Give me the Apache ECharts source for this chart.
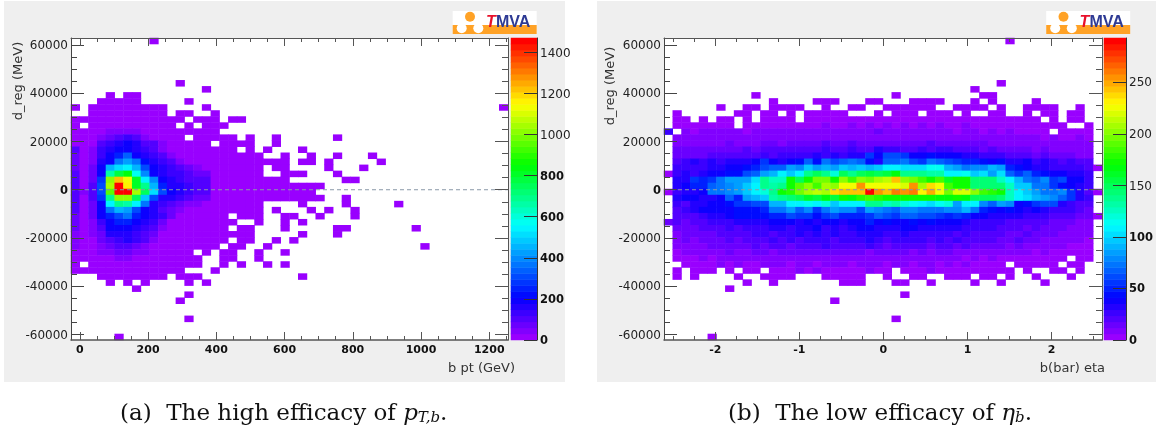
<!DOCTYPE html>
<html><head><meta charset="utf-8">
<style>html,body{margin:0;padding:0;background:#fff}#c{width:1156px;height:430px}</style>
<script src="https://cdn.jsdelivr.net/npm/echarts@6/dist/echarts.min.js"></script>
</head><body><div id="c"></div>
<script>
// ---- data: 50 x 50 bins, top row first; a row may stop after its last filled bin ----
const ptTicks=[0,200,400,600,800,1000,1200];
const etaTicks=[-2,-1,0,1,2];
const dregTicks=[-60000,-40000,-20000,0,20000,40000,60000];
const ptBarTicks=[0,200,400,600,800,1000,1200,1400];
const etaBarTicks=[0,50,100,150,200,250];
const ptZMax=1470, etaZMax=293;
const ptRows=[
[0,0,0,0,0,0,0,0,0,1],[],[],[],[],[],[],
[0,0,0,0,0,0,0,0,0,0,0,0,1],
[0,0,0,0,0,0,0,0,0,0,0,0,0,0,0,1],
[0,0,0,0,1,0,1,1],
[0,0,0,1,2, 2,2,1,0,0, 0,0,0,1],
[1,0,2,3,3, 3,3,3,2,2, 1,0,0,0,0, 1,0,0,0,0, 0,0,0,0,0, 0,0,0,0,0, 0,0,0,0,0, 0,0,0,0,0, 0,0,0,0,0, 0,0,0,0,1],
[0,0,3,4,5, 5,5,4,3,2, 2,0,1,1,0, 0,1],
[1,2,4,6,8, 9,10,9,6,4, 3,2,1,0,1, 1,1,0,1,1],
[2,0,6,9,14, 16,22,20,12,8, 5,3,0,1,0, 1,1,1],
[3,4,10,16,40, 45,48,42,28,12, 8,5,3,2,2, 1,1],
[6,8,14,50,80, 110,120,90,30,20, 10,6,4,0,3, 2,2,1,1,0, 1,0,0,1,0, 0,0,0,0,0, 1,0,0,0,0, 0],
[15,12,22,90,135, 165,185,155,110,90, 40,9,5,4,3, 3,0,2,1,1, 1,0,0,1],
[110,15,35,140,170, 195,200,155,135,110, 50,14,8,6,4, 3,2,2,1,0, 1,0,1,0,0, 0,1],
[60,18,45,130,195, 260,340,190,150,130, 100,50,22,6,4, 3,3,2,2,1, 1,1,0,0,1, 0,0,1,0,0, 1,0,0,0,1],
[70,20,50,155,200, 380,440,370,210,165, 130,100,40,15,6, 4,3,3,2,2, 1,1,1,1,1, 0,1,1,0,1, 0,0,0,0,0, 1],
[85,22,60,195,450, 520,550,470,300,195, 165,140,100,70,40, 15,6,4,3,2, 2,1,0,1,1, 0,0,0,0,1, 0,0,0,1],
[100,25,70,190,650, 770,845,580,400,190, 150,140,125,100,80, 70,20,8,5,3, 2,2,0,0,1, 1,1,0,0,0, 1],
[105,25,80,270,1000, 1230,1120,820,550,400, 195,160,130,110,100, 90,25,10,6,4, 3,2,2,1,1, 0,0,0,0,0, 0,1,1],
[110,25,90,320,1040, 1465,1160,820,700,450, 260,155,160,120,100, 90,28,12,7,5, 3,3,2,2,1, 1,1,1,1],
[115,30,95,320,950, 1465,1465,1040,750,520, 320,195,170,130,100, 90,25,10,6,4, 3,3,2,2,1, 1,1,1],
[100,28,90,280,700, 1000,1000,750,490,320, 165,170,120,100,80, 60,20,8,5,4, 3,2,2,1,1, 1,1,1,1,0, 0,1],
[100,28,80,195,550, 690,660,550,380,170, 140,110,80,50,35, 15,8,5,4,3, 2,2,0,0,0, 0,1,0,0,0, 0,1,0,0,0, 0,0,1],
[90,25,70,195,380, 450,420,320,195,150, 110,80,40,15,8, 5,4,3,3,2, 2,1,0,1,0, 0,0,1,0,1, 0,0,1],
[80,22,60,180,260, 320,370,260,195,165, 135,60,25,10,6, 4,3,3,0,2, 1,1,0,0,1, 1,0,0,1,0, 0,0,1],
[70,20,50,130,195, 240,260,195,150,120, 70,25,12,7,5, 3,3,2,2,0, 0,1,0,0,1, 0,1],
[65,18,45,110,195, 195,195,170,135,110, 45,15,8,5,4, 3,2,2,0,1, 1,0,0,0,1, 0,0,0,0,0, 1,1,0,0,0, 0,0,0,0,1],
[55,15,35,85,155, 172,172,125,110,60, 25,10,6,4,3, 2,2,1,1,1, 1,0,0,0,0, 0,1,0,0,0, 1],
[45,12,25,70,110, 135,155,135,90,45, 15,8,5,3,2, 2,1,1,0,1, 1,0,0,1,0, 1],
[30,10,18,50,75, 100,110,80,50,20, 10,6,4,3,2, 1,1,0,1,1, 0,0,1,0,0, 0,0,0,0,0, 0,0,0,0,0, 0,0,0,0,0, 1],
[15,8,12,30,50, 65,60,50,30,12, 7,5,3,2,0, 1,0,1,1,0, 0,1,0,0,1],
[8,5,8,18,25, 35,40,25,20,8, 5,3,2,2,1, 0,0,1,1,0, 0,1],
[3,0,4,8,12, 14,16,12,8,5, 3,2,2,1,1, 0,0,1,0,1, 0,0,1,0,1],
[2,1,2,3,4, 5,6,4,3,2, 2,1,1,0,0, 0,1],
[0,0,0,1,2, 2,3,2,1,1, 1,0,1,1,1, 0,0,0,0,0, 0,0,0,0,0, 0,1],
[0,0,0,0,1, 0,1,0,1,0, 0,0,0,1,0, 1],
[0,0,0,0,0, 0,0,1],
[0,0,0,0,0, 0,0,0,0,0, 0,0,0,1],
[0,0,0,0,0, 0,0,0,0,0, 0,0,1],
[],[],
[0,0,0,0,0, 0,0,0,0,0, 0,0,0,1],
[],[],
[0,0,0,0,0,1]
];
const etaRows=[
[0,0,0,0,0, 0,0,0,0,0, 0,0,0,0,0, 0,0,0,0,0, 0,0,0,0,0, 0,0,0,0,0, 0,0,0,0,0, 0,0,0,0,1],[],[],[],[],[],[],
[0,0,0,0,0, 0,0,0,0,0, 0,0,0,0,0, 0,0,0,0,0, 0,0,0,0,0, 0,0,0,0,0, 0,0,0,0,0, 0,0,0,1],
[0,0,0,0,0, 0,0,0,0,0, 0,0,0,0,0, 0,0,0,0,0, 0,0,0,0,0, 0,0,0,0,0, 0,0,0,0,0, 1],
[0,0,0,0,0, 0,0,0,0,0, 1,0,0,0,0, 0,0,0,0,0, 0,0,0,0,0, 0,1,0,0,0, 0,0,0,0,0, 0,1,1],
[0,0,0,0,0, 0,0,0,0,0, 0,0,1,0,0, 0,0,1,1,1, 0,0,0,1,1, 0,0,0,1,1, 1,1,0,0,0, 1,0,1,0,0, 0,0,1],
[0,0,0,0,0, 0,1,0,0,1, 1,0,1,1,1, 1,0,0,1,0, 0,1,1,0,0, 1,1,1,1,1, 1,0,0,1,1, 1,1,0,1,0, 0,1,1,1,1, 0,0,1],
[0,2,0,0,0, 0,0,0,2,2, 0,2,2,0,2, 0,2,2,2,2, 2,0,0,0,2, 0,2,2,2,0, 2,2,2,0,2, 0,0,2,2,0, 0,2,0,2,2, 0,2,2],
[0,3,3,0,3, 0,3,3,0,3, 0,3,3,3,3, 0,3,3,3,3, 3,3,3,3,3, 3,3,3,3,3, 3,3,3,3,3, 3,3,3,3,3, 3,3,3,0,3, 0,2,2],
[0,4,5,4,5, 4,5,4,0,4, 5,4,5,5,5, 5,4,5,6,5, 5,6,5,6,5, 6,5,6,5,6, 5,6,5,5,6, 5,5,4,4,5, 4,4,4,3,3, 3,0,0,2],
[25,0,6,5,7, 6,7,6,7,5, 7,6,7,8,7, 8,7,8,7,8, 8,9,7,8,12, 7,8,7,8,7, 8,7,6,5,6, 7,5,6,5,6, 5,5,4,4,0, 3,3,3,3],
[0,7,8,7,6, 7,6,7,8,6, 8,7,7,8,10, 6,9,8,10,9, 8,10,8,11,9, 8,10,9,8,8, 10,9,7,8,10, 9,7,8,6,8, 7,6,6,5,6, 5,5,6,5],
[0,10,10,9,8, 9,11,12,10,11, 10,12,15,10,16, 14,12,15,18,16, 14,18,16,14,15, 13,16,12,14,15, 18,14,12,16,14, 12,12,10,11,9, 9,8,8,7,8, 6,7,6,6],
[0,12,14,12,12, 13,15,16,15,18, 16,18,18,22,18, 18,22,20,25,22, 20,28,22,18,32, 24,26,22,20,24, 22,24,28,20,18, 18,16,18,14,15, 12,12,10,12,11, 10,9,8,8],
[0,13,16,17,15, 18,20,18,22,20, 22,24,20,26,24, 26,28,30,28,30, 26,32,34,55,40, 60,60,55,38,38, 45,38,40,40,35, 30,28,24,26,20, 20,18,16,18,14, 12,13,10,10],
[0,22,25,30,26, 30,28,30,32,34, 40,56,40,35,38, 42,66,42,75,60, 66,75,66,42,35, 66,70,75,60,55, 75,70,60,55,50, 48,42,40,42,35, 34,38,26,30,28, 22,24,18,18],
[0,25,28,26,28, 30,32,36,40,42, 48,60,66,70,85, 80,95,85,92,85, 95,90,95,92,95, 108,108,100,100,105, 115,112,88,85,74, 80,80,90,85,48, 45,36,32,32,28, 28,26,24,20,3],
[3,27,30,28,34, 38,40,42,45,60, 70,85,88,108,95, 108,135,150,140,118, 150,140,150,155,150, 158,168,140,140,135, 130,130,108,108,112, 95,100,85,100,70, 56,66,50,42,40, 40,34,34,27],
[0,31,34,56,52, 56,74,85,85,85, 100,135,125,125,170, 150,172,197,197,175, 205,185,205,197,210, 212,243,205,197,185, 172,185,160,172,172, 145,145,145,128,110, 90,74,66,78,56, 60,36,36,27],
[0,34,40,50,52, 66,74,78,85,95, 110,135,130,140,172, 190,200,185,210,200, 228,225,254,228,228, 225,228,222,254,210, 238,228,185,172,172, 145,145,145,145,125, 95,95,76,76,55, 45,40,30,28],
[4,27,34,34,40, 74,74,78,85,95, 110,118,140,172,178, 197,210,215,210,240, 243,243,243,292,254, 243,262,254,258,233, 248,228,197,218,218, 205,185,178,172,128, 110,95,85,72,74, 78,56,34,22,3],
[0,31,40,40,34, 34,38,70,50,85, 90,95,130,140,142, 150,160,155,165,158, 170,165,178,185,180, 172,175,170,175,170, 172,168,165,172,165, 150,150,150,142,125, 110,100,90,85,78, 66,56,31,26],
[0,27,22,31,34, 40,38,42,56,58, 60,62,90,90,108, 110,115,108,122,95, 110,110,108,138,140, 128,132,120,112,110, 105,112,120,85,110, 108,80,70,85,78, 40,42,56,62,60, 34,27,22,20],
[0,22,27,34,36, 36,38,40,42,44, 45,48,75,72,85, 70,80,55,72,85, 78,80,60,85,80, 74,70,78,80,72, 75,72,80,78,92, 75,50,46,40,42, 38,34,36,30,28, 27,24,20,16],
[0,18,20,22,28, 30,34,36,42,42, 44,42,50,48,60, 54,58,46,55,60, 52,50,48,58,66, 60,56,70,65,62, 62,58,50,56,48, 40,38,34,32,30, 30,26,28,24,22, 20,18,14,12,3],
[14,18,14,20,22, 24,28,26,34,30, 32,34,36,38,40, 34,38,30,40,36, 34,38,36,48,40, 42,40,36,42,40, 44,38,40,36,30, 28,26,28,24,22, 22,20,18,20,15, 14,12,10,9],
[0,14,16,14,18, 22,20,24,22,24, 28,26,30,32,28, 34,30,36,26,32, 28,34,36,38,32, 30,34,38,36,32, 30,32,34,30,28, 24,26,24,20,22, 18,16,18,14,14, 12,10,9,8],
[0,10,12,14,12, 16,18,20,22,18, 24,26,20,28,24, 30,26,32,28,30, 26,28,30,32,30, 24,28,30,26,28, 24,26,28,22,26, 20,22,18,20,16, 16,18,14,12,12, 10,8,8,6],
[0,8,12,10,14, 12,16,18,16,20, 18,22,24,20,26, 22,24,28,26,22, 24,28,26,30,24, 22,26,28,24,26, 22,24,22,26,20, 18,22,20,16,14, 18,12,14,10,10, 8,7,6,5],
[0,8,6,10,8, 12,14,12,16,14, 18,16,20,18,16, 20,22,18,24,20, 18,22,20,24,18, 16,20,22,18,20, 16,18,20,14,18, 16,14,12,14,10, 12,10,10,8,6, 6,5,4,4],
[0,5,6,7,8, 7,9,12,10,9, 12,14,11,16,12, 14,13,12,15,14, 12,16,13,11,15, 12,14,13,10,14, 11,12,14,10,9, 11,8,9,7,8, 7,6,5,6,5, 4,4,3,3],
[0,3,4,5,6, 5,6,8,7,8, 6,9,7,8,10, 8,9,7,9,10, 6,8,10,7,9, 7,9,8,6,8, 7,9,6,8,5, 7,5,6,4,5, 4,3,4,3,3, 3,0,3,3],
[0,0,4,5,3, 4,6,5,6,4, 5,7,6,8,5, 7,9,5,8,6, 7,5,9,6,8, 5,7,9,5,6, 7,5,6,4,6, 5,4,5,3,0, 3,2,4,2,3, 0,2,3],
[0,2,0,3,4, 3,0,3,0,3, 4,0,4,3,5, 8,4,7,3,5, 3,4,2,6,2, 3,0,4,3,5, 6,3,4,2,3, 2,3,2,3,2, 0,2,0,0,2, 2,0,2],
[0,2,0,1,0, 0,0,0,1,0, 0,1,2,2,1, 0,0,0,2,3, 2,2,3,0,0, 2,0,0,2,1, 0,0,2,2,1, 0,2,2,0,1, 0,0,1,0,0, 0,1],
[0,0,0,0,0, 0,0,0,0,1, 0,0,1,0,0, 0,0,0,0,0, 1,1,1,0,0, 0,1,1,0,0, 1,0,0,0,0, 1,0,0,1,0, 0,0,0,1],
[0,0,0,0,0, 0,0,1],
[0,0,0,0,0, 0,0,0,0,0, 0,0,0,0,0, 0,0,0,0,0, 0,0,0,0,0, 0,0,1],
[0,0,0,0,0, 0,0,0,0,0, 0,0,0,0,0, 0,0,0,0,1],
[],[],
[0,0,0,0,0, 0,0,0,0,0, 0,0,0,0,0, 0,0,0,0,0, 0,0,0,0,0, 0,1],
[],[],
[0,0,0,0,0,1]
];
// ---- styling and scaffolding ----
const NBINS=50, FONT='"DejaVu Sans"';
const stops=[[0,[153,0,255]],[6.5,[0,0,255]],[18.5,[0,255,255]],[28.5,[0,255,0]],[38.5,[255,255,0]],[49,[255,0,0]]];
const palette=[];
for(let i=0;i<NBINS;i++){
  let k=0; while(k<stops.length-2 && i>stops[k+1][0]) k++;
  const [a,ca]=stops[k],[b,cb]=stops[k+1],t=Math.min(1,(i-a)/(b-a));
  palette.push('rgb('+ca.map((v,n)=>Math.round(v+(cb[n]-v)*t)).join(',')+')');
}
const bins=[...Array(NBINS).keys()];
function cells(rows){const out=[];rows.forEach((r,j)=>r.forEach((v,i)=>{if(v>0)out.push([i,NBINS-1-j,v]);}));return out;}
function minors(ticks,min,max){const st=(ticks[1]-ticks[0])/4,out=[];
  for(let v=ticks[0]-8*st;v<=max;v+=st){if(v>min&&v<max)out.push(v);}
  return out;}
const richLab={b:{fontFamily:FONT,fontSize:11.5,fontWeight:'bold',color:'#111'}};
const gridCats=(g,dim,data)=>({type:'category',gridIndex:g,data:data||bins,show:false,boundaryGap:true,
  position:dim==='x'?'bottom':'left'});
function tickAxis(g,pos,min,max,vals,len,colour,label,lineW){
  return {type:'value',gridIndex:g,position:pos,min,max,z:5,splitLine:{show:false},minorTick:{show:false},
    axisLine:{show:lineW>0,onZero:false,lineStyle:{color:colour,width:lineW||1}},
    axisTick:{show:true,inside:true,length:len,customValues:vals,lineStyle:{color:colour,width:1}},
    axisLabel:label?Object.assign({show:true,customValues:vals,hideOverlap:false,showMinLabel:true,showMaxLabel:true},label):{show:false}};
}
const xLab={fontFamily:FONT,fontSize:11,fontWeight:'bold',color:'#111',margin:5,formatter:v=>String(v)};
const yLab={fontFamily:FONT,fontSize:12,color:'#222',margin:3,padding:[2,0,0,0],rich:richLab,formatter:v=>v===0?'{b|0}':String(v)};
const barLab=boldBelow=>({fontFamily:FONT,fontSize:12,color:'#222',margin:3,padding:[2,0,0,0],rich:richLab,
  formatter:v=>v<=boldBelow?'{b|'+v+'}':String(v)});
const grids=[],xAxes=[],yAxes=[],series=[],vms=[];
function plot(left,width,barLeft,xMin,xMax,xTicks,rows,zMax,barTicks,boldBelow){
  const top=38,height=302,yMin=-62240,yMax=62860;
  const g=grids.length;
  grids.push({left,top,width,height,show:true,backgroundColor:'#fff',borderWidth:0});
  const x0=xAxes.length,y0=yAxes.length;
  const xMinor=minors(xTicks,xMin,xMax),yMinor=minors(dregTicks,yMin,yMax);
  xAxes.push(gridCats(g,'x'),
    tickAxis(g,'bottom',xMin,xMax,xTicks,8,'#555',xLab,1.5),
    tickAxis(g,'bottom',xMin,xMax,xMinor,4,'#555',null,0),
    tickAxis(g,'top',xMin,xMax,xTicks,8,'#555',null,1),
    tickAxis(g,'top',xMin,xMax,xMinor,4,'#555',null,0));
  yAxes.push(gridCats(g,'y'),
    tickAxis(g,'left',yMin,yMax,dregTicks,13,'#444',yLab,1),
    tickAxis(g,'left',yMin,yMax,yMinor,6,'#444',null,0),
    tickAxis(g,'right',yMin,yMax,dregTicks,13,'#555',null,1),
    tickAxis(g,'right',yMin,yMax,yMinor,6,'#555',null,0));
  const heat=series.length;
  series.push({type:'heatmap',xAxisIndex:x0,yAxisIndex:y0,data:cells(rows),progressive:0,silent:true,z:2,
    itemStyle:{borderWidth:0},emphasis:{disabled:true}});
  series.push({type:'line',xAxisIndex:x0+1,yAxisIndex:y0+1,data:[[xMin,0],[xMax,0]],symbol:'none',silent:true,z:4,
    lineStyle:{type:[4,3],width:1,color:'#8a98a8'}});
  // colour scale
  const gb=grids.length;
  grids.push({left:barLeft,top,width:26,height});
  const xb=xAxes.length,yb=yAxes.length;
  xAxes.push(gridCats(gb,'x',['z']));
  yAxes.push(gridCats(gb,'y'),
    tickAxis(gb,'right',0,zMax,barTicks,13,'#333',barLab(boldBelow),1));
  const bar=series.length;
  series.push({type:'heatmap',xAxisIndex:xb,yAxisIndex:yb,progressive:0,silent:true,z:2,emphasis:{disabled:true},
    data:bins.map(i=>[0,i,(i+0.5)*zMax/NBINS])});
  vms.push({type:'piecewise',show:false,seriesIndex:[heat,bar],dimension:2,
    pieces:bins.map(i=>({gte:i*zMax/NBINS,lt:(i+1)*zMax/NBINS+(i===NBINS-1?1:0),color:palette[i]}))});
}
plot(71,437,511,-26,1255,ptTicks,ptRows,ptZMax,ptBarTicks,800);
plot(664,438,1104,-2.61,2.6,etaTicks,etaRows,etaZMax,etaBarTicks,100);
const texts=[];
function panel(x,w){texts.push({type:'rect',z:-5,silent:true,shape:{x,y:1,width:w,height:381},style:{fill:'#efefef'}});}
panel(4,561);panel(597,559);
function logo(dx){
  const o='#ffa226';
  texts.push({type:'rect',z:6,shape:{x:452.7+dx,y:11,width:84,height:23},style:{fill:'#fff'}},
   {type:'rect',z:6,shape:{x:452.7+dx,y:25,width:84,height:9},style:{fill:o}},
   {type:'circle',z:7,shape:{cx:470+dx,cy:16.7,r:5},style:{fill:o}},
   {type:'circle',z:7,shape:{cx:461.7+dx,cy:28.3,r:5},style:{fill:'#fff'}},
   {type:'circle',z:7,shape:{cx:478.3+dx,cy:28.3,r:5},style:{fill:'#fff'}},
   {type:'text',z:7,style:{x:496+dx,y:23,text:'MVA',font:'bold 16px "Liberation Sans"',fill:'#2e3a94',textVerticalAlign:'middle'}},
   {type:'text',z:8,style:{x:486+dx,y:23,text:'T',font:'italic bold 16px "Liberation Sans"',fill:'#e8102a',textVerticalAlign:'middle'}});
}
logo(0);logo(593.5);
function axTitle(text,x,y,rot){
  texts.push({type:'text',z:6,x,y,rotation:rot,style:{x:0,y:0,text,font:'13px '+FONT,fill:'#333',
    textAlign:rot?'center':'right',textVerticalAlign:'middle'}});
}
axTitle('d_reg (MeV)',19,81,Math.PI/2);
axTitle('d_reg (MeV)',611,86,Math.PI/2);
axTitle('b pt (GeV)',515,369,0);
axTitle('b(bar) eta',1105,369,0);
const sf='"DejaVu Serif"';
const cap={n:{font:'23px '+sf,fill:'#111'},i:{font:'italic 23px '+sf,fill:'#111'},
  s:{font:'italic 15px '+sf,fill:'#111',verticalAlign:'bottom',padding:[9,0,0,0]}};
texts.push({type:'text',z:6,style:{x:120,y:414,text:'{n|(a)  The high efficacy of }{i|p}{s|T,b}{n|.}',rich:cap,textVerticalAlign:'middle'}},
  {type:'text',z:6,style:{x:728,y:414,text:'{n|(b)  The low efficacy of }{i|η}{s|b̄}{n|.}',rich:cap,textVerticalAlign:'middle'}});
const chart=echarts.init(document.getElementById('c'),null,{renderer:'canvas'});
chart.setOption({animation:false,backgroundColor:'#fff',tooltip:{show:false},legend:{show:false},
  grid:grids,xAxis:xAxes,yAxis:yAxes,series,visualMap:vms,graphic:{elements:texts}});
</script></body></html>
